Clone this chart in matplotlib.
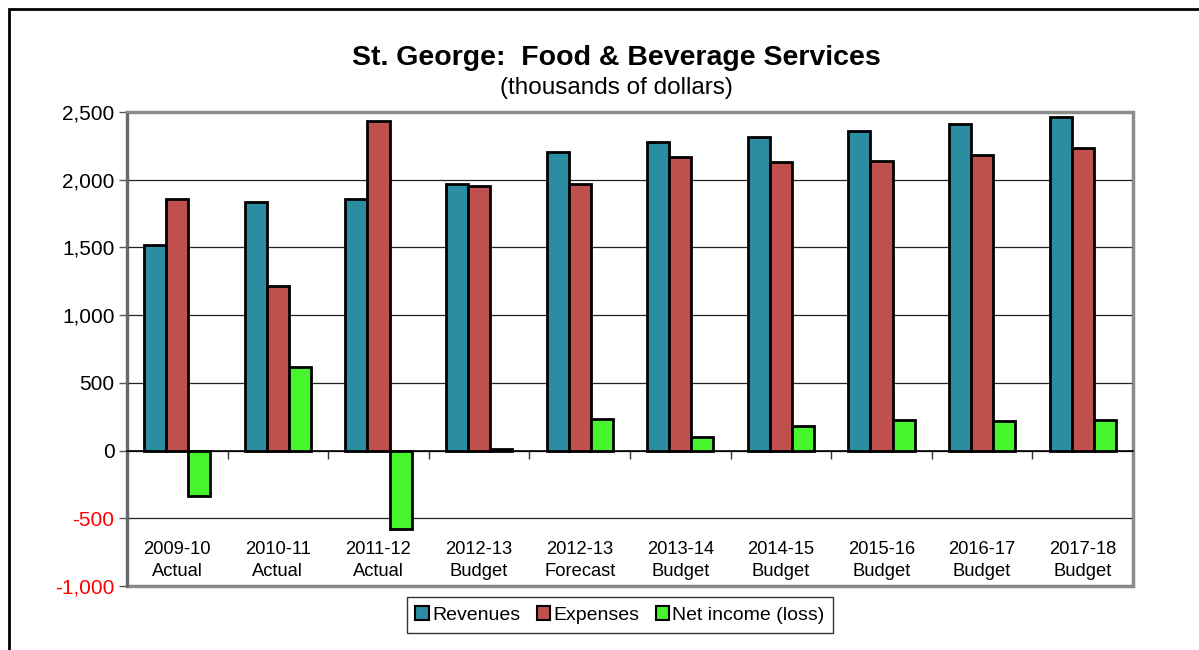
import matplotlib
matplotlib.use("Agg")
import matplotlib.pyplot as plt
from matplotlib.patches import Rectangle
from matplotlib.ticker import FuncFormatter, MultipleLocator
import numpy as np

categories = ["2009-10\nActual", "2010-11\nActual", "2011-12\nActual", "2012-13\nBudget",
              "2012-13\nForecast", "2013-14\nBudget", "2014-15\nBudget", "2015-16\nBudget",
              "2016-17\nBudget", "2017-18\nBudget"]
revenues = [1515, 1837, 1859, 1965, 2201, 2275, 2312, 2363, 2413, 2462]
expenses = [1854, 1216, 2430, 1952, 1965, 2171, 2132, 2135, 2186, 2236]
net_income = [-337, 620, -578, 12, 234, 103, 180, 227, 222, 229]
series_names = ["Revenues", "Expenses", "Net income (loss)"]
colors = ["#2A8DA1", "#C0504D", "#47F52C"]

plt.rcParams['font.family'] = ['Liberation Sans', 'DejaVu Sans']

fig = plt.figure(figsize=(11.99, 6.5), dpi=100)
ax = fig.add_axes([127/1199, 1-586/650, (1133-127)/1199, (586-112)/650])

x = np.arange(len(categories))
w = 0.22
for i, (vals, name, c) in enumerate(zip([revenues, expenses, net_income], series_names, colors)):
    ax.bar(x + (i-1)*w, vals, w, color=c, edgecolor="black", linewidth=2, label=name, zorder=3)

ax.set_xlim(-0.5, len(categories)-0.5)
ax.set_ylim(-1000, 2500)
ax.yaxis.set_major_locator(MultipleLocator(500))
ax.yaxis.set_major_formatter(FuncFormatter(lambda v, p: f"{v:,.0f}"))
ax.grid(axis="y", color="#222222", linewidth=0.9, zorder=0)
ax.tick_params(axis="y", labelsize=15, length=6, width=1, color="#555555", pad=3)
for lab in ax.get_yticklabels():
    try:
        if float(lab.get_text().replace(",", "").replace("\u2212", "-")) < 0:
            lab.set_color("red")
    except ValueError:
        pass

# x axis at zero with boundary tick marks
ax.spines["bottom"].set_position(("data", 0))
ax.spines["bottom"].set_color("black")
ax.spines["bottom"].set_linewidth(1.2)
ax.set_xticks(np.arange(len(categories)+1) - 0.5)
ax.set_xticklabels([])
ax.tick_params(axis="x", direction="out", length=6, width=1, color="#333333")
for s in ["top", "right"]:
    ax.spines[s].set_color("#8c8c8c")
    ax.spines[s].set_linewidth(2)
ax.spines["left"].set_color("#666666")
ax.spines["left"].set_linewidth(2)
ax.add_patch(Rectangle((0, 0), 1, 1, transform=ax.transAxes, fill=False,
                       edgecolor="#8c8c8c", linewidth=2.5, zorder=1, clip_on=False))

trans = ax.get_xaxis_transform()
for xi, lab in zip(x, categories):
    ax.text(xi, 0.053, lab, transform=trans, ha="center", va="center",
            fontsize=13.2, linespacing=1.4,
            family=['Liberation Sans Narrow', 'Liberation Sans', 'DejaVu Sans'])

fig.text(616/1199, 1-58/650, "St. George:  Food & Beverage Services", ha="center", va="center",
         fontsize=20.5, fontweight="bold")
fig.text(616/1199, 1-88/650, "(thousands of dollars)", ha="center", va="center", fontsize=17.5)

leg = ax.legend(loc="center", bbox_to_anchor=(620/1199, 1-615/650), bbox_transform=fig.transFigure,
                ncol=3, fontsize=14, frameon=True, fancybox=False, edgecolor="black",
                handlelength=0.7, handleheight=0.7, handletextpad=0.15, columnspacing=0.85,
                borderpad=0.45)
leg.get_frame().set_linewidth(1)
for h in leg.legend_handles:
    h.set_linewidth(1.5)

fig.add_artist(Rectangle((9/1199, -0.1), 1.2, 1.1-9/650, transform=fig.transFigure,
                         fill=False, edgecolor="black", linewidth=2))

fig.savefig("out.png", dpi=100)
